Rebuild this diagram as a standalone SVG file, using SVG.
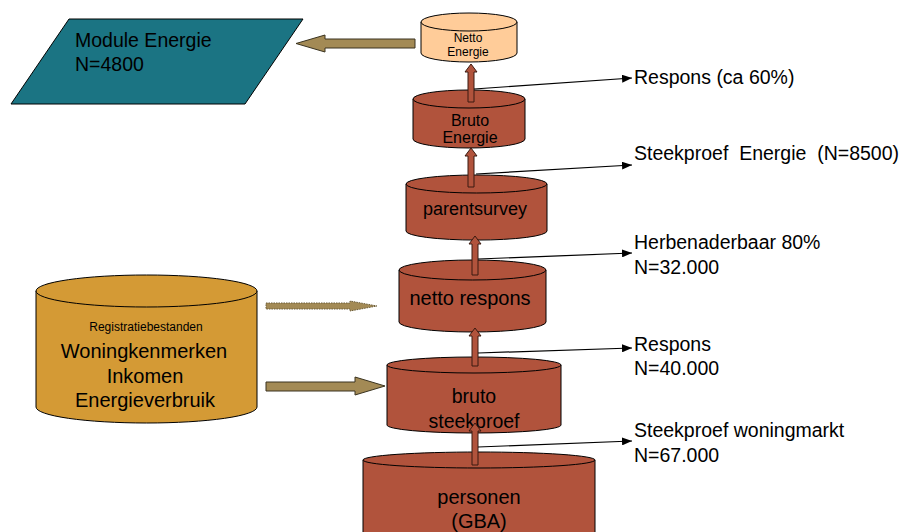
<svg xmlns="http://www.w3.org/2000/svg" width="902" height="532" viewBox="0 0 902 532">
<defs>
<marker id="ah" markerWidth="10" markerHeight="8" refX="10" refY="4" orient="auto" markerUnits="userSpaceOnUse">
<path d="M0,0 L10,4 L0,8 Z" fill="#000"/>
</marker>
<style>
text{font-family:"Liberation Sans",Arial,sans-serif;fill:#000}
.cyl{stroke:#000;stroke-width:1}
.brown{fill:#B1533C}
.peach{fill:#FFCC99}
.gold{fill:#D49A35}
.varr{fill:#B1533C;stroke:#3a1a10;stroke-width:1}
.harr{fill:#A38A55;stroke:#3a3320;stroke-width:1}
.dot{fill:#A38A55;stroke:#6b5d3a;stroke-width:1;stroke-dasharray:1.5 1}
.lbl{font-size:19.5px}
.conn{stroke:#000;stroke-width:1.2;fill:none}
</style>
</defs>
<rect width="902" height="532" fill="#fff"/>

<g id="module-energie">
<polygon points="69,19 303,19 245,104 11,104" fill="#1B7483" stroke="#000" stroke-width="1"/>
<text x="75" y="47" font-size="19.5">Module Energie</text>
<text x="75" y="71" font-size="19.5">N=4800</text>
</g>

<g id="netto-energie">
<path class="cyl peach" d="M421,22 L421,53 A48,9 0 0 0 517,53 L517,22 Z"/>
<ellipse class="cyl peach" cx="469" cy="22" rx="48" ry="9"/>
<text x="468" y="42" font-size="12" text-anchor="middle">Netto</text>
<text x="468" y="56" font-size="12" text-anchor="middle">Energie</text>
</g>

<g id="bruto-energie">
<path class="cyl brown" d="M413,99 L413,139 A56,9 0 0 0 525,139 L525,99 Z"/>
<ellipse class="cyl brown" cx="469" cy="99" rx="56" ry="9"/>
<text x="470" y="126" font-size="16" text-anchor="middle">Bruto</text>
<text x="470" y="143" font-size="16" text-anchor="middle">Energie</text>
</g>

<g id="parentsurvey">
<path class="cyl brown" d="M406,184 L406,231 A70,9 0 0 0 547,231 L547,184 Z"/>
<ellipse class="cyl brown" cx="476.5" cy="184" rx="70.5" ry="9"/>
<text x="475" y="215" font-size="18" text-anchor="middle">parentsurvey</text>
</g>

<g id="netto-respons">
<path class="cyl brown" d="M399,270 L399,322 A73.5,10 0 0 0 546,322 L546,270 Z"/>
<ellipse class="cyl brown" cx="472.5" cy="270" rx="73.5" ry="10"/>
<text x="470" y="305" font-size="20" text-anchor="middle">netto respons</text>
</g>

<g id="bruto-steekproef">
<path class="cyl brown" d="M387,365 L387,425 A87,8 0 0 0 561,425 L561,365 Z"/>
<ellipse class="cyl brown" cx="474" cy="365" rx="87" ry="8"/>
<text x="474" y="403" font-size="19.5" text-anchor="middle">bruto</text>
<text x="474" y="428" font-size="19.5" text-anchor="middle">steekproef</text>
</g>

<g id="personen">
<path class="cyl brown" d="M363,460 L363,532 A116,9 0 0 0 595,532 L595,460 Z"/>
<ellipse class="cyl brown" cx="479" cy="460" rx="116" ry="8"/>
<text x="479" y="504" font-size="20" text-anchor="middle">personen</text>
<text x="479" y="528" font-size="20" text-anchor="middle">(GBA)</text>
</g>

<g id="registratiebestanden">
<path class="cyl gold" d="M36,291 L36,407 A110.5,16 0 0 0 257,407 L257,291 Z"/>
<ellipse class="cyl gold" cx="146.5" cy="291" rx="110.5" ry="16"/>
<text x="146" y="331" font-size="12" text-anchor="middle">Registratiebestanden</text>
<text x="144" y="358" font-size="20" text-anchor="middle">Woningkenmerken</text>
<text x="145" y="383" font-size="20" text-anchor="middle">Inkomen</text>
<text x="145" y="407" font-size="20" text-anchor="middle">Energieverbruik</text>
</g>

<g id="labels">
<text class="lbl" x="634" y="84">Respons (ca 60%)</text>
<text class="lbl" x="634" y="160" xml:space="preserve">Steekproef  Energie  (N=8500)</text>
<text class="lbl" x="634" y="249">Herbenaderbaar 80%</text>
<text class="lbl" x="634" y="274">N=32.000</text>
<text class="lbl" x="634" y="351">Respons</text>
<text class="lbl" x="634" y="375">N=40.000</text>
<text class="lbl" x="634" y="437">Steekproef woningmarkt</text>
<text class="lbl" x="634" y="462">N=67.000</text>
</g>

<g id="connectors">
<polygon class="harr" points="415,39 325,39 325,35 296,43.5 325,52 325,48 415,48"/>
<polygon class="dot" points="266,303 350,303 350,301 377,306 350,311 350,309 266,309"/>
<polygon class="harr" points="266,382 355,382 355,377 385,386 355,395 355,391 266,391"/>

<polygon class="varr" points="468,102 468,72 465,72 471,64 477,72 474,72 474,102"/>
<polygon class="varr" points="468,187 468,156 465,156 471,148 477,156 474,156 474,187"/>
<polygon class="varr" points="472,275 472,244 469,244 475,236 481,244 478,244 478,275"/>
<polygon class="varr" points="472,366 472,336 469,336 475,328 481,336 478,336 478,366"/>
<polygon class="varr" points="472,465 472,431 469,431 475,423 481,431 478,431 478,465"/>

<line class="conn" x1="474" y1="89" x2="632" y2="78" marker-end="url(#ah)"/>
<line class="conn" x1="476" y1="174" x2="632" y2="165" marker-end="url(#ah)"/>
<line class="conn" x1="478" y1="259" x2="632" y2="253" marker-end="url(#ah)"/>
<line class="conn" x1="478" y1="353" x2="632" y2="348" marker-end="url(#ah)"/>
<line class="conn" x1="478" y1="447" x2="632" y2="441" marker-end="url(#ah)"/>
</g>
</svg>
